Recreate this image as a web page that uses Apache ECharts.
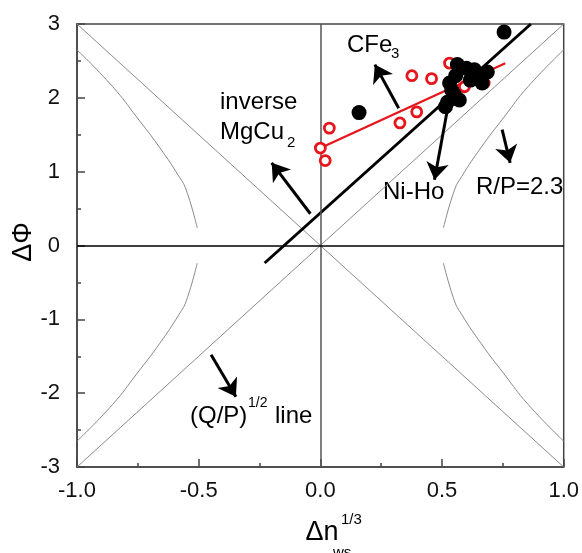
<!DOCTYPE html>
<html>
<head>
<meta charset="utf-8">
<script src="https://cdn.jsdelivr.net/npm/echarts@6/dist/echarts.min.js"></script>
<style>html,body{margin:0;padding:0;background:#fff}#c{width:582px;height:553px}</style>
</head>
<body>
<div id="c"></div>
<script>
// ---- data ----
var blackX = [0.755, 0.159, 0.563, 0.600, 0.633, 0.657, 0.686, 0.616, 0.665, 0.531, 0.551, 0.571, 0.522, 0.514, 0.540, 0.556];
var blackY = [2.89, 1.80, 2.45, 2.40, 2.38, 2.28, 2.35, 2.24, 2.20, 2.20, 2.04, 1.97, 1.94, 1.88, 2.10, 2.30];
var redX = [0.000, 0.020, 0.037, 0.327, 0.396, 0.376, 0.457, 0.531, 0.673, 0.592];
var redY = [1.32, 1.15, 1.59, 1.66, 1.81, 2.30, 2.26, 2.47, 2.20, 2.15];
var blackFitX = [-0.229, 0.865];
var blackFitY = [-0.237, 3.00];
var redFitX = [0.000, 0.760];
var redFitY = [1.32, 2.47];
var diagX = [-1, 1];
var diagY = [3, -3];
// R/P = 2.3 curve, upper-left branch (mirrored for the other three)
var hypX = [-1.000, -0.853, -0.755, -0.661, -0.580, -0.551, -0.506];
var hypY = [2.65, 2.15, 1.74, 1.33, 0.93, 0.75, 0.24];
// annotation arrows: [x0, y0, x1, y1]
var arrowCFe3 = [0.322, 1.86, 0.224, 2.45];
var arrowMgCu2 = [-0.041, 0.43, -0.200, 1.12];
var arrowNiHo = [0.522, 1.84, 0.469, 0.89];
var arrowRP = [0.747, 1.57, 0.780, 1.12];
var arrowQP = [-0.449, -1.48, -0.347, -2.05];
var xTicks = [-1.0, -0.5, 0.0, 0.5, 1.0];
var yTicks = [-3, -2, -1, 0, 1, 2, 3];

// ---- build ----
function zip(a, b) { return a.map(function (v, i) { return [v, b[i]]; }); }
function mirror(sx, sy) { return hypX.map(function (v, i) { return [sx * v, sy * hypY[i]]; }); }
var FONT = 'Liberation Sans, Arial, sans-serif';
var GRAY = '#8a8a8a';
var AX = '#444';

function grayLine(data, sm) {
  return { type: 'line', data: data, symbol: 'none', silent: true, smooth: sm,
    lineStyle: { color: GRAY, width: 1 }, z: 1, animation: false };
}
var arrows = [arrowCFe3, arrowMgCu2, arrowNiHo, arrowRP, arrowQP];

var chart = echarts.init(document.getElementById('c'), null, { renderer: 'canvas' });
var option = {
  animation: false,
  backgroundColor: '#fff',
  grid: { left: 77, right: 15, top: 24, bottom: 86, show: true, borderColor: AX, borderWidth: 1.5, backgroundColor: 'transparent' },
  xAxis: {
    type: 'value', min: xTicks[0], max: xTicks[xTicks.length - 1], interval: 0.5,
    axisLine: { onZero: false, lineStyle: { color: AX, width: 1.5 } },
    axisTick: { inside: true, length: 8, lineStyle: { color: AX, width: 1.5 } },
    minorTick: { show: true, splitNumber: 2, length: 4, lineStyle: { color: AX, width: 1.5 } },
    splitLine: { show: false },
    axisLabel: { fontSize: 22, color: '#111', fontFamily: FONT, margin: 13, formatter: function (v) { return v.toFixed(1); } }
  },
  yAxis: {
    type: 'value', min: yTicks[0], max: yTicks[yTicks.length - 1], interval: 1,
    axisLine: { onZero: false, lineStyle: { color: AX, width: 1.5 } },
    axisTick: { inside: true, length: 8, lineStyle: { color: AX, width: 1.5 } },
    minorTick: { show: true, splitNumber: 2, length: 4, lineStyle: { color: AX, width: 1.5 } },
    splitLine: { show: false },
    axisLabel: { fontSize: 22, color: '#111', fontFamily: FONT, margin: 17 }
  },
  series: [
    { type: 'line', data: [], silent: true, z: 2,
      markLine: { silent: true, symbol: 'none', label: { show: false }, animation: false,
        data: [ { xAxis: 0, lineStyle: { color: '#555', width: 1.5, type: 'solid' } },
                { yAxis: 0, lineStyle: { color: '#000', width: 1.5, type: 'solid' } } ] } },
    grayLine(zip(diagX, diagY), false),
    grayLine(zip(diagX, diagY.map(function (v) { return -v; })), false),
    grayLine(mirror(1, 1), 0.5),
    grayLine(mirror(1, -1), 0.5),
    grayLine(mirror(-1, 1), 0.5),
    grayLine(mirror(-1, -1), 0.5),
    { type: 'line', data: zip(blackFitX, blackFitY), symbol: 'none', lineStyle: { color: '#000', width: 3 }, z: 3 },
    { type: 'line', data: zip(redFitX, redFitY), symbol: 'none', lineStyle: { color: '#e8141c', width: 2.2 }, z: 4 },
    { type: 'scatter', data: zip(redX, redY), symbol: 'circle', symbolSize: 10,
      itemStyle: { color: '#fff', borderColor: '#e8141c', borderWidth: 2.8, opacity: 1 }, z: 5 },
    { type: 'scatter', data: zip(blackX, blackY), symbol: 'circle', symbolSize: 15,
      itemStyle: { color: '#000', opacity: 1 }, z: 6 },
    { type: 'lines', coordinateSystem: 'cartesian2d', z: 7, silent: true,
      symbol: ['none', 'arrow'], symbolSize: [12, 17],
      lineStyle: { color: '#000', width: 3, opacity: 1, curveness: 0 },
      data: arrows.map(function (a) { return { coords: [[a[0], a[1]], [a[2], a[3]]] }; }) }
  ],
  graphic: [
    { type: 'text', x: 347, y: 45, style: { text: 'CFe', fontSize: 24, fontFamily: FONT, fill: '#000', verticalAlign: 'middle' } },
    { type: 'text', x: 391, y: 54, style: { text: '3', fontSize: 15, fontFamily: FONT, fill: '#000', verticalAlign: 'middle' } },
    { type: 'text', x: 220, y: 102, style: { text: 'inverse', fontSize: 24, fontFamily: FONT, fill: '#000', verticalAlign: 'middle' } },
    { type: 'text', x: 220, y: 132, style: { text: 'MgCu', fontSize: 24, fontFamily: FONT, fill: '#000', verticalAlign: 'middle' } },
    { type: 'text', x: 287, y: 143, style: { text: '2', fontSize: 15, fontFamily: FONT, fill: '#000', verticalAlign: 'middle' } },
    { type: 'text', x: 383, y: 192, style: { text: 'Ni-Ho', fontSize: 24, fontFamily: FONT, fill: '#000', verticalAlign: 'middle' } },
    { type: 'text', x: 476, y: 187, style: { text: 'R/P=2.3', fontSize: 24, fontFamily: FONT, fill: '#000', verticalAlign: 'middle' } },
    { type: 'text', x: 190, y: 416, style: { text: '(Q/P)', fontSize: 24, fontFamily: FONT, fill: '#000', verticalAlign: 'middle' } },
    { type: 'text', x: 248, y: 403, style: { text: '1/2', fontSize: 14, fontFamily: FONT, fill: '#000', verticalAlign: 'middle' } },
    { type: 'text', x: 275, y: 416, style: { text: 'line', fontSize: 24, fontFamily: FONT, fill: '#000', verticalAlign: 'middle' } },
    { type: 'text', x: 24, y: 242, rotation: Math.PI / 2, style: { text: 'ΔΦ', fontSize: 27, fontFamily: FONT, fill: '#000', align: 'center', verticalAlign: 'middle' } },
    { type: 'text', x: 322, y: 533, style: { text: 'Δn', fontSize: 27, fontFamily: FONT, fill: '#000', align: 'center', verticalAlign: 'middle' } },
    { type: 'text', x: 341, y: 520, style: { text: '1/3', fontSize: 15, fontFamily: FONT, fill: '#000', verticalAlign: 'middle' } },
    { type: 'text', x: 333, y: 553, style: { text: 'ws', fontSize: 15, fontFamily: FONT, fill: '#000', verticalAlign: 'middle' } }
  ]
};
chart.setOption(option);
</script>
</body>
</html>
